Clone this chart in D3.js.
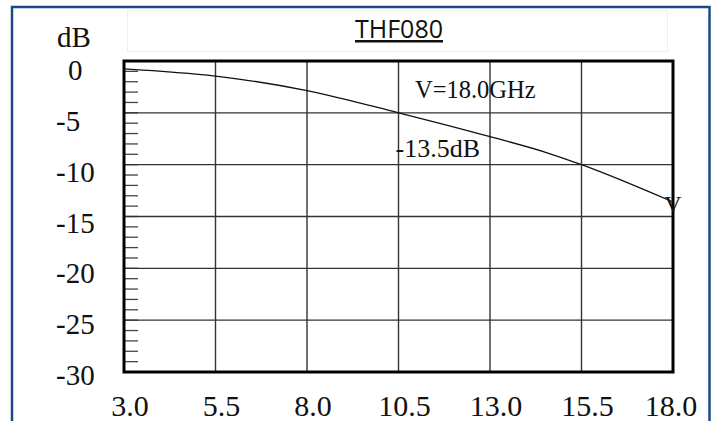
<!DOCTYPE html>
<html>
<head>
<meta charset="utf-8">
<script src="https://cdn.jsdelivr.net/npm/d3@7"></script>
<style>
  html, body { margin: 0; padding: 0; background: #ffffff; }
  svg { display: block; }
</style>
</head>
<body>
<svg id="chart" width="715" height="421"></svg>
<script>
// ---- data ----
const title = "THF080";
const yUnit = "dB";
const xTickValues = [3.0, 5.5, 8.0, 10.5, 13.0, 15.5, 18.0];
const xTickLabels = ["3.0", "5.5", "8.0", "10.5", "13.0", "15.5", "18.0"];
const yTickValues = [0, -5, -10, -15, -20, -25, -30];
const yTickLabels = ["0", "-5", "-10", "-15", "-20", "-25", "-30"];
const yMinorValues = d3.range(0, -31, -1);
const freqGHz = [3.0, 5.5, 8.0, 10.5, 13.0, 14.6, 15.5, 18.0];
const lossDb  = [-0.75, -1.45, -2.85, -5.0, -7.3, -8.9, -10.0, -13.6];
const markerFreq = 18.0;
const markerLoss = -13.6;
const markerText1 = "V=18.0GHz";
const markerText2 = "-13.5dB";

// ---- layout ----
const svg = d3.select("#chart");
const plot = { left: 124, right: 673, top: 61, bottom: 372 };
const x = d3.scaleLinear().domain([3, 18]).range([plot.left, plot.right]);
const y = d3.scaleLinear().domain([0, -30]).range([plot.top, plot.bottom]);
// label baselines sit on their own slightly compressed scale (as in the source)
const yLab = d3.scaleLinear().domain([0, -30]).range([80, 385]);

const serif = "'Liberation Serif', 'Times New Roman', serif";

// outer blue frame
svg.append("rect")
  .attr("x", 12).attr("y", 7).attr("width", 697.5).attr("height", 430)
  .attr("fill", "none").attr("stroke", "#1d4a85").attr("stroke-width", 2.5);

// title box
svg.append("rect")
  .attr("x", 127.5).attr("y", 10.5).attr("width", 540).attr("height", 41)
  .attr("fill", "none").attr("stroke", "#efefef").attr("stroke-width", 1);

svg.append("text")
  .attr("x", 399).attr("y", 38)
  .attr("text-anchor", "middle")
  .attr("font-family", "'Open Sans', Calibri, sans-serif")
  .attr("font-size", 25)
  .attr("fill", "#111")
  .attr("text-decoration", "underline")
  .text(title);

// minor ticks on left
svg.append("g").selectAll("line").data(yMinorValues).join("line")
  .attr("x1", plot.left).attr("x2", plot.left + 14)
  .attr("y1", d => y(d)).attr("y2", d => y(d))
  .attr("stroke", "#444").attr("stroke-width", 1.3);

// grid lines
svg.append("g").selectAll("line").data(xTickValues).join("line")
  .attr("x1", d => x(d)).attr("x2", d => x(d))
  .attr("y1", plot.top).attr("y2", plot.bottom)
  .attr("stroke", "#333").attr("stroke-width", 1.4);
svg.append("g").selectAll("line").data(yTickValues).join("line")
  .attr("x1", plot.left).attr("x2", plot.right)
  .attr("y1", d => y(d)).attr("y2", d => y(d))
  .attr("stroke", "#333").attr("stroke-width", 1.4);

// plot frame
svg.append("rect")
  .attr("x", plot.left).attr("y", plot.top)
  .attr("width", plot.right - plot.left).attr("height", plot.bottom - plot.top)
  .attr("fill", "none").attr("stroke", "#000").attr("stroke-width", 3);

// curve
const pts = freqGHz.map((f, i) => [f, lossDb[i]]);
svg.append("path")
  .datum(pts)
  .attr("d", d3.line().x(d => x(d[0])).y(d => y(d[1])).curve(d3.curveMonotoneX))
  .attr("fill", "none").attr("stroke", "#111").attr("stroke-width", 1.3);

// y labels
svg.append("text")
  .attr("x", 57).attr("y", 47)
  .attr("font-family", serif).attr("font-size", 29).attr("fill", "#111")
  .text(yUnit);
svg.append("g").selectAll("text").data(yTickValues).join("text")
  .attr("x", d => d === 0 ? 68 : 56)
  .attr("y", d => yLab(d))
  .attr("font-family", serif).attr("font-size", 29).attr("fill", "#111")
  .text((d, i) => yTickLabels[i]);

// x labels
svg.append("g").selectAll("text").data(xTickValues).join("text")
  .attr("x", d => x(d) + (d === 18 ? -2 : 6))
  .attr("y", 416)
  .attr("text-anchor", "middle")
  .attr("font-family", serif).attr("font-size", 30).attr("fill", "#111")
  .text((d, i) => xTickLabels[i]);

// marker and annotations
svg.append("text")
  .attr("x", x(markerFreq)).attr("y", y(markerLoss) + 10)
  .attr("text-anchor", "middle")
  .attr("font-family", serif).attr("font-size", 24).attr("fill", "#111")
  .text("V");
svg.append("text")
  .attr("x", x(10.95)).attr("y", y(-3.57))
  .attr("font-family", serif).attr("font-size", 24.5).attr("fill", "#111")
  .text(markerText1);
svg.append("text")
  .attr("x", x(10.42)).attr("y", y(-9.26))
  .attr("font-family", serif).attr("font-size", 26).attr("fill", "#111")
  .text(markerText2);
</script>
</body>
</html>
